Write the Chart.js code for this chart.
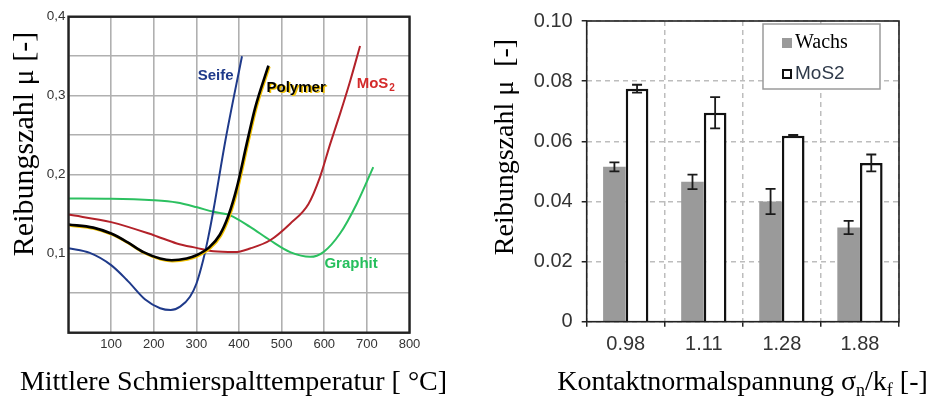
<!DOCTYPE html>
<html>
<head>
<meta charset="utf-8">
<script src="https://cdn.jsdelivr.net/npm/chart.js@4.4.0/dist/chart.umd.min.js"></script>
<style>
  html, body { margin: 0; padding: 0; background: #fff; }
  #wrap { position: relative; width: 931px; height: 396px; overflow: hidden; }
  canvas { position: absolute; top: 0; }
  #left { left: 0; }
  #right { left: 465px; }
</style>
</head>
<body>
<div id="wrap">
  <canvas id="left" width="465" height="396"></canvas>
  <canvas id="right" width="466" height="396"></canvas>
</div>
<script>
// ---- left chart: friction coefficient vs. temperature ----
const seifeT   = [0, 50, 100, 140, 180, 215, 240, 262, 285, 300, 316, 328, 340, 368, 407];
const seifeMu  = [0.107, 0.101, 0.0855, 0.065, 0.042, 0.031, 0.0287, 0.033, 0.0455, 0.062, 0.092, 0.121, 0.155, 0.243, 0.350];
const polyT    = [0, 58, 100, 137, 176, 215, 242, 277, 300, 330, 355, 375, 395, 418, 438, 469];
const polyMu   = [0.137, 0.133, 0.1255, 0.115, 0.102, 0.094, 0.0918, 0.094, 0.098, 0.108, 0.124, 0.148, 0.184, 0.239, 0.285, 0.338];
const mosT     = [0, 100, 200, 254, 300, 340, 390, 426, 473, 520, 563, 590, 614, 637, 661, 684];
const mosMu    = [0.1495, 0.140, 0.1234, 0.113, 0.1074, 0.103, 0.102, 0.1066, 0.117, 0.138, 0.163, 0.197, 0.239, 0.277, 0.319, 0.363];
const graphT   = [0, 100, 200, 254, 300, 340, 379, 426, 473, 520, 567, 598, 637, 676, 715];
const graphMu  = [0.170, 0.1697, 0.1676, 0.1647, 0.159, 0.153, 0.1486, 0.134, 0.117, 0.102, 0.096, 0.102, 0.1255, 0.163, 0.2097];

// curve labels (data coordinates)
const curveNames = ['Seife', 'Polymer', 'MoS', 'Graphit'];
const nameT      = [345, 534, 676, 663];
const nameMu     = [0.3245, 0.310, 0.315, 0.0877];

// ---- right chart: friction coefficient vs. contact pressure ----
const stressRatio = ['0.98', '1.11', '1.28', '1.88'];
const wachsMu  = [0.0515, 0.0465, 0.0400, 0.0313];
const wachsErr = [0.0015, 0.0024, 0.0042, 0.0022];
const mos2Mu   = [0.0775, 0.0695, 0.0618, 0.0528];
const mos2Err  = [0.0013, 0.0052, 0.0003, 0.0028];

const SANS = '"Liberation Sans", Arial, sans-serif';
const SERIF = '"Liberation Serif", "Times New Roman", serif';
Chart.defaults.font.family = SANS;

const pts = (xs, ys) => xs.map((x, i) => ({ x: x, y: ys[i] }));

// yellow shadow under the polymer curve
const polymerShadow = {
  id: 'polymerShadow',
  beforeDatasetDraw(chart, args) {
    if (chart.data.datasets[args.index].label !== 'Polymer') return;
    const ctx = chart.ctx;
    ctx.shadowColor = '#f3c300';
    ctx.shadowOffsetX = 1;
    ctx.shadowOffsetY = 1;
    ctx.shadowBlur = 0;
  },
  afterDatasetDraw(chart) {
    const ctx = chart.ctx;
    ctx.shadowColor = 'rgba(0,0,0,0)';
    ctx.shadowOffsetX = 0;
    ctx.shadowOffsetY = 0;
  }
};

const leftDeco = {
  id: 'leftDeco',
  afterDatasetsDraw(chart) {
    const { ctx, chartArea: a, scales: { x, y } } = chart;
    ctx.save();
    ctx.strokeStyle = '#222';
    ctx.lineWidth = 2.4;
    ctx.strokeRect(a.left, a.top, a.right - a.left, a.bottom - a.top);

    // curve names
    const colors = ['#1f3a8a', '#000', '#d42a2a', '#25bf5c'];
    ctx.font = 'bold 15px ' + SANS;
    ctx.textBaseline = 'middle';
    curveNames.forEach((n, i) => {
      const px = x.getPixelForValue(nameT[i]);
      const py = y.getPixelForValue(nameMu[i]);
      ctx.fillStyle = colors[i];
      if (n === 'MoS') {
        ctx.textAlign = 'left';
        ctx.fillText(n, px, py);
        const w = ctx.measureText(n).width;
        ctx.font = 'bold 10px ' + SANS;
        ctx.fillText('2', px + w + 1, py + 4);
        ctx.font = 'bold 15px ' + SANS;
      } else {
        ctx.textAlign = 'center';
        if (n === 'Polymer') {
          ctx.shadowColor = '#f3c300';
          ctx.shadowOffsetX = 1.5;
          ctx.shadowOffsetY = 1.5;
        }
        ctx.fillText(n, px, py);
        ctx.shadowColor = 'rgba(0,0,0,0)';
        ctx.shadowOffsetX = 0;
        ctx.shadowOffsetY = 0;
      }
    });

    // axis titles
    ctx.fillStyle = '#000';
    ctx.textBaseline = 'alphabetic';
    ctx.textAlign = 'center';
    ctx.font = '28px ' + SERIF;
    ctx.fillText('Mittlere Schmierspalttemperatur [ °C]', 233.5, 390);
    ctx.translate(33, 144);
    ctx.rotate(-Math.PI / 2);
    ctx.font = '30px ' + SERIF;
    ctx.fillText('Reibungszahl μ [-]', 0, 0);
    ctx.restore();
  }
};

new Chart(document.getElementById('left'), {
  type: 'line',
  data: {
    datasets: [
      { label: 'Polymer', data: pts(polyT, polyMu), borderColor: '#000', borderWidth: 2.6 },
      { label: 'Seife', data: pts(seifeT, seifeMu), borderColor: '#1f3a8a', borderWidth: 2 },
      { label: 'MoS2', data: pts(mosT, mosMu), borderColor: '#b3222a', borderWidth: 2 },
      { label: 'Graphit', data: pts(graphT, graphMu), borderColor: '#2cc060', borderWidth: 2 }
    ]
  },
  options: {
    responsive: false,
    animation: false,
    devicePixelRatio: 1,
    layout: { padding: { top: 16.7, right: 55.5, bottom: 0, left: 0 } },
    elements: { point: { radius: 0 }, line: { cubicInterpolationMode: 'monotone', fill: false } },
    plugins: { legend: { display: false }, tooltip: { enabled: false } },
    scales: {
      x: {
        type: 'linear', min: 0, max: 800,
        ticks: { stepSize: 100, autoSkip: false, maxRotation: 0, color: '#333', font: { size: 13 }, padding: 4,
                 callback: v => v === 0 ? '' : String(v) },
        grid: { color: '#b0b0b0', lineWidth: 1.6, drawTicks: false },
        border: { display: false },
        afterFit: s => { s.height = 63.3; }
      },
      y: {
        min: 0, max: 0.4,
        ticks: { stepSize: 0.05, autoSkip: false, color: '#333', font: { size: 13.5 }, padding: 3,
                 callback: v => {
                   const k = Math.round(v * 20);
                   return (k > 0 && k % 2 === 0) ? (k / 20).toFixed(1).replace('.', ',') : '';
                 } },
        grid: { color: '#b0b0b0', lineWidth: 1.6, drawTicks: false },
        border: { display: false },
        afterFit: s => { s.width = 68.5; }
      }
    }
  },
  plugins: [polymerShadow, leftDeco]
});

// ---- right chart plugins ----
const errorBars = {
  id: 'errorBars',
  afterDatasetsDraw(chart) {
    const { ctx, scales: { y } } = chart;
    ctx.save();
    ctx.strokeStyle = '#1a1a1a';
    ctx.lineWidth = 1.8;
    chart.data.datasets.forEach((ds, di) => {
      const meta = chart.getDatasetMeta(di);
      meta.data.forEach((bar, i) => {
        const v = ds.data[i], e = ds.err[i];
        const top = y.getPixelForValue(v + e);
        const bot = y.getPixelForValue(v - e);
        const cx = bar.x, w = 5;
        ctx.beginPath();
        ctx.moveTo(cx, top); ctx.lineTo(cx, bot);
        ctx.moveTo(cx - w, top); ctx.lineTo(cx + w, top);
        ctx.moveTo(cx - w, bot); ctx.lineTo(cx + w, bot);
        ctx.stroke();
      });
    });
    ctx.restore();
  }
};

const rightDeco = {
  id: 'rightDeco',
  afterDraw(chart) {
    const { ctx, chartArea: a } = chart;
    ctx.save();
    ctx.strokeStyle = '#222';
    ctx.lineWidth = 1.6;
    ctx.strokeRect(a.left, a.top, a.right - a.left, a.bottom - a.top);

    // legend box
    const ds = chart.data.datasets;
    ctx.fillStyle = '#fff';
    ctx.fillRect(298, 24, 117, 65);
    ctx.strokeStyle = '#9a9a9a';
    ctx.lineWidth = 1.5;
    ctx.strokeRect(298, 24, 117, 65);
    ctx.fillStyle = ds[0].backgroundColor;
    ctx.fillRect(317, 38, 10, 10);
    ctx.fillStyle = '#fff';
    ctx.fillRect(317, 69, 10, 10);
    ctx.strokeStyle = '#111';
    ctx.lineWidth = 2;
    ctx.strokeRect(318, 70, 8, 8);
    ctx.textBaseline = 'middle';
    ctx.textAlign = 'left';
    ctx.fillStyle = '#000';
    ctx.font = '20px ' + SERIF;
    ctx.fillText(ds[0].label, 330, 43);
    ctx.fillStyle = '#2f3a4a';
    ctx.font = '19px ' + SANS;
    ctx.fillText(ds[1].label, 330, 74);

    // axis titles
    ctx.fillStyle = '#000';
    ctx.textBaseline = 'alphabetic';
    const big = '28px ' + SERIF, small = '18px ' + SERIF;
    const parts = [['Kontaktnormalspannung σ', big, 0], ['n', small, 6], ['/k', big, 0], ['f', small, 6], [' [-]', big, 0]];
    let total = 0;
    parts.forEach(p => { ctx.font = p[1]; total += ctx.measureText(p[0]).width; });
    let xx = 277.5 - total / 2;
    ctx.textAlign = 'left';
    parts.forEach(p => {
      ctx.font = p[1];
      ctx.fillText(p[0], xx, 390 + p[2]);
      xx += ctx.measureText(p[0]).width;
    });
    ctx.translate(48, 147);
    ctx.rotate(-Math.PI / 2);
    ctx.textAlign = 'center';
    ctx.font = big;
    ctx.fillText('Reibungszahl μ  [-]', 0, 0);
    ctx.restore();
  }
};

new Chart(document.getElementById('right'), {
  type: 'bar',
  data: {
    labels: stressRatio,
    datasets: [
      { label: 'Wachs', data: wachsMu, err: wachsErr, backgroundColor: '#9a9a9a', borderWidth: 0 },
      { label: 'MoS2', data: mos2Mu, err: mos2Err, backgroundColor: '#fff', borderColor: '#111', borderWidth: 2.5 }
    ]
  },
  options: {
    responsive: false,
    animation: false,
    devicePixelRatio: 1,
    categoryPercentage: 0.58,
    barPercentage: 1,
    layout: { padding: { top: 15.3, right: 32, bottom: 0, left: 0 } },
    plugins: { legend: { display: false }, tooltip: { enabled: false } },
    scales: {
      x: {
        ticks: { color: '#333', font: { size: 20 }, padding: 6 },
        grid: { offset: true, color: '#bdbdbd', lineWidth: 1.5, borderDash: [5, 4],
                drawTicks: true, tickLength: 5, tickColor: '#222', tickWidth: 1.5, tickBorderDash: [] },
        border: { display: false, dash: [5, 4] },
        afterFit: s => { s.height = 74.3; }
      },
      y: {
        min: 0, max: 0.1,
        ticks: { stepSize: 0.02, color: '#333', font: { size: 20 }, padding: 9,
                 callback: v => v === 0 ? '0' : v.toFixed(2) },
        grid: { color: '#bdbdbd', lineWidth: 1.5, borderDash: [5, 4],
                drawTicks: true, tickLength: 5, tickColor: '#222', tickWidth: 1.5, tickBorderDash: [] },
        border: { display: false, dash: [5, 4] },
        afterFit: s => { s.width = 121.7; }
      }
    }
  },
  plugins: [errorBars, rightDeco]
});
</script>
</body>
</html>
